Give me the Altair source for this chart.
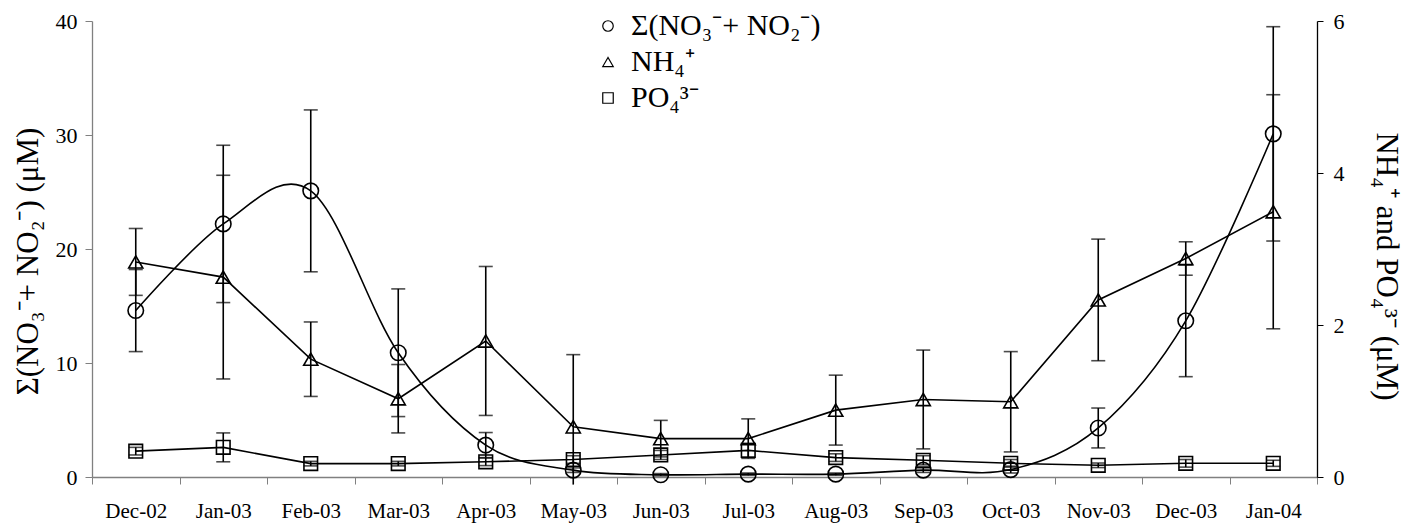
import altair as alt
import pandas as pd

months = ["Dec-02", "Jan-03", "Feb-03", "Mar-03", "Apr-03", "May-03", "Jun-03",
          "Jul-03", "Aug-03", "Sep-03", "Oct-03", "Nov-03", "Dec-03", "Jan-04"]

# Σ(NO3- + NO2-) in µM (left axis)
no3 = [14.6, 22.2, 25.1, 10.9, 2.8, 0.6, 0.2, 0.25, 0.25, 0.6, 0.65, 4.3, 13.7, 30.1]
no3_err = [3.6, 6.9, 7.1, 5.6, 1.1, 0.2, 0.1, 0.1, 0.1, 0.2, 0.3, 1.75, 4.9, 9.4]

# NH4+ in µM (right axis)
nh4 = [2.83, 2.63, 1.55, 1.03, 1.79, 0.66, 0.505, 0.505, 0.88, 1.02, 0.99, 2.33, 2.875, 3.49]
nh4_err_up = [0.44, 1.34, 0.49, 0.45, 0.98, 0.95, 0.24, 0.26, 0.46, 0.65, 0.66, 0.8, 0.22, 1.54]
nh4_err_down = [0.44, 1.34, 0.49, 0.45, 0.98, 0.76, 0.24, 0.26, 0.46, 0.65, 0.66, 0.8, 0.22, 1.54]

# PO4 3- in µM (right axis)
po4 = [0.34, 0.39, 0.176, 0.176, 0.2, 0.23, 0.29, 0.35, 0.255, 0.22, 0.18, 0.154, 0.18, 0.18]
po4_err = [0.05, 0.19, 0.03, 0.03, 0.05, 0.05, 0.06, 0.09, 0.05, 0.06, 0.05, 0.03, 0.05, 0.04]

lab_no3 = "Σ(NO₃⁻+ NO₂⁻)"
lab_nh4 = "NH₄⁺"
lab_po4 = "PO₄³⁻"
series_labels = [lab_no3, lab_nh4, lab_po4]
shapes = ["circle", "triangle-up", "square"]

idx = list(range(len(months)))
df_left = pd.DataFrame({
    "idx": idx, "value": no3,
    "lo": [v - e for v, e in zip(no3, no3_err)],
    "hi": [v + e for v, e in zip(no3, no3_err)],
    "series": lab_no3,
})
df_nh4 = pd.DataFrame({
    "idx": idx, "value": nh4,
    "lo": [v - e for v, e in zip(nh4, nh4_err_down)],
    "hi": [v + e for v, e in zip(nh4, nh4_err_up)],
    "series": lab_nh4,
})
df_po4 = pd.DataFrame({
    "idx": idx, "value": po4,
    "lo": [v - e for v, e in zip(po4, po4_err)],
    "hi": [v + e for v, e in zip(po4, po4_err)],
    "series": lab_po4,
})
df_right = pd.concat([df_nh4, df_po4], ignore_index=True)

FONT = "Liberation Serif"
month_arr = "[" + ",".join("'" + m + "'" for m in months) + "]"

x_axis = alt.Axis(
    values=[i - 0.5 for i in range(len(months) + 1)],
    labelExpr=month_arr + "[round(datum.value + 0.5)] || ''",
    labelOffset=43.75, labelFontSize=21, labelPadding=16,
    labelFont=FONT, labelColor="black",
    tickSize=7, tickColor="#808080", domainColor="#808080", domainWidth=1.3,
    grid=False, title=None, labelOverlap=False, labelBound=False, labelFlush=False,
)
x_enc = alt.X("idx:Q", scale=alt.Scale(domain=[-0.5, len(months) - 0.5], nice=False, zero=False),
              axis=x_axis)

y_left_scale = alt.Scale(domain=[0, 40], nice=False)
y_left_axis = alt.Axis(
    values=[0, 10, 20, 30, 40], title="Σ(NO₃⁻+ NO₂⁻) (μM)", grid=False,
    labelFont=FONT, titleFont=FONT, labelColor="black", titleColor="black",
    titleFontWeight="normal",
    labelFontSize=22, labelPadding=8, tickSize=7, tickColor="#808080",
    domainColor="#808080", domainWidth=1.3,
    titleFontSize=31, titleX=-64, titleY=240, titleAlign="center", titleBaseline="middle",
    titleAngle=270,
)
y_right_scale = alt.Scale(domain=[0, 6], nice=False)
y_right_axis = alt.Axis(
    orient="right", values=[0, 2, 4, 6], title="NH₄⁺ and PO₄³⁻ (μM)", grid=False,
    labelFont=FONT, titleFont=FONT, labelColor="black", titleColor="black",
    titleFontWeight="normal",
    labelFontSize=22, labelPadding=10, tickSize=6, tickColor="black",
    domainColor="black", domainWidth=1.3,
    titleFontSize=31, titleX=68, titleY=245, titleAlign="center", titleBaseline="middle",
    titleAngle=90,
)

shape_enc = alt.Shape(
    "series:N",
    scale=alt.Scale(domain=series_labels, range=shapes),
    legend=alt.Legend(
        title=None, orient="none", legendX=501, legendY=-10,
        labelFont=FONT, labelFontSize=30, labelColor="black", labelOffset=8, labelLimit=0,
        symbolSize=110, symbolStrokeColor="black", symbolStrokeWidth=1.2,
        symbolFillColor="transparent", rowPadding=6, padding=0,
    ),
)

LW = 1.6

# ---- left (NO3+NO2) ----
base_l = alt.Chart(df_left)
line_l = base_l.mark_line(interpolate="cardinal", color="black", strokeWidth=LW).encode(
    x=x_enc, y=alt.Y("value:Q", scale=y_left_scale, axis=y_left_axis))
rule_l = base_l.mark_rule(color="black", strokeWidth=LW).encode(
    x=x_enc, y=alt.Y("lo:Q", scale=y_left_scale, axis=y_left_axis), y2="hi:Q")
cap_l = base_l.transform_fold(["lo", "hi"], as_=["k", "v"]).transform_filter(
    "datum.v >= 0").mark_tick(orient="horizontal", color="black", size=14, thickness=LW).encode(
    x=x_enc, y=alt.Y("v:Q", scale=y_left_scale, axis=y_left_axis))
pts_l = base_l.mark_point(filled=False, color="black", strokeWidth=LW, size=240, opacity=1).encode(
    x=x_enc, y=alt.Y("value:Q", scale=y_left_scale, axis=y_left_axis), shape=shape_enc)
left = alt.layer(line_l, rule_l, cap_l, pts_l)

# ---- right (NH4, PO4) ----
base_r = alt.Chart(df_right)
line_r = base_r.mark_line(color="black", strokeWidth=LW).encode(
    x=x_enc, y=alt.Y("value:Q", scale=y_right_scale, axis=y_right_axis), detail="series:N")
rule_r = base_r.mark_rule(color="black", strokeWidth=LW).encode(
    x=x_enc, y=alt.Y("lo:Q", scale=y_right_scale, axis=y_right_axis), y2="hi:Q")
cap_r = base_r.transform_fold(["lo", "hi"], as_=["k", "v"]).transform_filter(
    "datum.v >= 0").mark_tick(orient="horizontal", color="black", size=14, thickness=LW).encode(
    x=x_enc, y=alt.Y("v:Q", scale=y_right_scale, axis=y_right_axis))
pts_r = base_r.mark_point(filled=False, color="black", strokeWidth=LW, opacity=1).encode(
    x=x_enc, y=alt.Y("value:Q", scale=y_right_scale, axis=y_right_axis), shape=shape_enc,
    size=alt.Size("series:N", scale=alt.Scale(domain=[lab_nh4, lab_po4], range=[200, 185]),
                  legend=None))
right = alt.layer(line_r, rule_r, cap_r, pts_r)

chart = alt.layer(left, right).resolve_scale(y="independent").properties(
    width=1225, height=456,
    autosize=alt.AutoSizeParams(type="none"),
    padding={"left": 84, "top": 13, "right": 93, "bottom": 47},
    background="white",
).configure_view(stroke=None).configure_axis(
    labelFont=FONT, titleFont=FONT, labelColor="black", titleColor="black",
    titleFontWeight="normal",
).configure_legend(labelFont=FONT, labelLimit=0)

chart.save("out.html", embed_options={"renderer": "svg", "actions": False})
